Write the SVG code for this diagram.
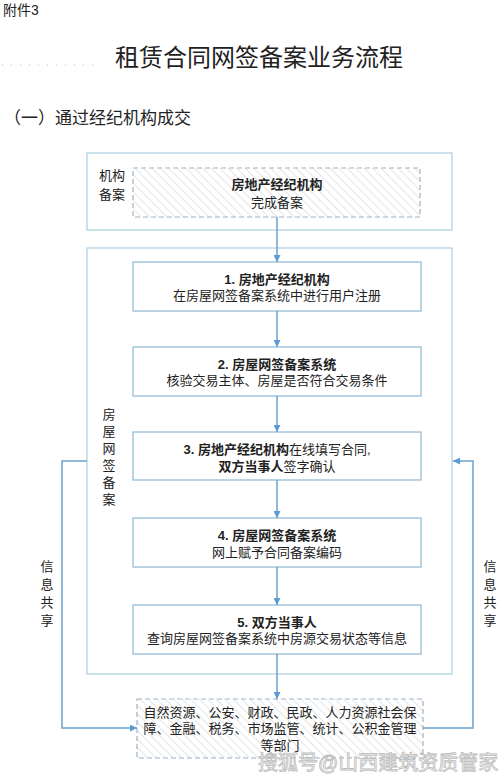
<svg xmlns="http://www.w3.org/2000/svg" width="500" height="780" viewBox="0 0 500 780">
<defs>
<pattern id="hatch" patternUnits="userSpaceOnUse" width="6" height="6" patternTransform="rotate(-45)">
<rect width="6" height="6" fill="#ffffff"/>
<line x1="0" y1="0" x2="0" y2="6" stroke="#d4d4d4" stroke-width="1.2"/>
</pattern>
<marker id="arr" viewBox="0 0 10 10" refX="10" refY="5" markerWidth="7" markerHeight="7" orient="auto" markerUnits="userSpaceOnUse">
<path d="M0,0 L10,5 L0,10 z" fill="#5b9bd5"/>
</marker>
<style>
text{font-family:"Liberation Sans","Noto Sans CJK SC",sans-serif;fill:#222;}
.t{font-size:13px;text-anchor:middle;}
.b{font-weight:bold;}
.lbl{font-size:13px;text-anchor:middle;}
.outer{fill:none;stroke:#aacfe0;stroke-width:1.2;}
.box{fill:#ffffff;stroke:#8db8d6;stroke-width:1.2;}
.dash{fill:url(#hatch);stroke:#9fb4c8;stroke-width:1.2;stroke-dasharray:5,3;}
.con{fill:none;stroke:#6aa0cc;stroke-width:1.5;}
</style>
</defs>
<rect width="500" height="780" fill="#ffffff"/>

<text x="3" y="15" style="font-size:14px">附件3</text>
<line x1="2" y1="65" x2="100" y2="65" stroke="#bbb" stroke-width="1" stroke-dasharray="1,8"/>
<text x="259" y="66" style="font-size:24px;text-anchor:middle">租赁合同网签备案业务流程</text>
<text x="4" y="124" style="font-size:17px">（一）通过经纪机构成交</text>

<g id="group-agency">
<rect class="outer" x="87" y="153" width="365" height="77"/>
<text class="lbl" x="112" y="180">机构</text>
<text class="lbl" x="112" y="199">备案</text>
</g>
<g id="group-system">
<rect class="outer" x="87" y="248" width="365" height="426"/>
<text class="lbl"><tspan x="109" y="419">房</tspan><tspan x="109" y="436">屋</tspan><tspan x="109" y="453">网</tspan><tspan x="109" y="470">签</tspan><tspan x="109" y="487">备</tspan><tspan x="109" y="504">案</tspan></text>
</g>

<g id="node-agency">
<rect class="dash" x="133" y="168" width="287" height="49"/>
<text class="t b" x="277" y="189">房地产经纪机构</text>
<text class="t" x="277" y="207">完成备案</text>
</g>
<g id="node-1">
<rect class="box" x="133" y="262" width="288" height="49"/>
<text class="t b" x="277" y="284">1. 房地产经纪机构</text>
<text class="t" x="277" y="300">在房屋网签备案系统中进行用户注册</text>
</g>
<g id="node-2">
<rect class="box" x="133" y="347" width="288" height="49"/>
<text class="t b" x="277" y="369">2. 房屋网签备案系统</text>
<text class="t" x="277" y="385">核验交易主体、房屋是否符合交易条件</text>
</g>
<g id="node-3">
<rect class="box" x="133" y="432" width="288" height="48"/>
<text class="t" x="277" y="454"><tspan class="b">3. 房地产经纪机构</tspan>在线填写合同,</text>
<text class="t" x="277" y="471"><tspan class="b">双方当事人</tspan>签字确认</text>
</g>
<g id="node-4">
<rect class="box" x="133" y="518" width="288" height="49"/>
<text class="t b" x="277" y="540">4. 房屋网签备案系统</text>
<text class="t" x="277" y="557">网上赋予合同备案编码</text>
</g>
<g id="node-5">
<rect class="box" x="133" y="605" width="288" height="49"/>
<text class="t b" x="277" y="627">5. 双方当事人</text>
<text class="t" x="277" y="643">查询房屋网签备案系统中房源交易状态等信息</text>
</g>
<g id="node-depts">
<rect class="dash" x="137" y="699" width="286" height="59"/>
<text class="t" x="280" y="717">自然资源、公安、财政、民政、人力资源社会保</text>
<text class="t" x="280" y="733">障、金融、税务、市场监管、统计、公积金管理</text>
<text class="t" x="280" y="750">等部门</text>
</g>

<g id="connectors">
<line class="con" x1="277" y1="217" x2="277" y2="262" marker-end="url(#arr)"/>
<line class="con" x1="277" y1="311" x2="277" y2="347" marker-end="url(#arr)"/>
<line class="con" x1="277" y1="396" x2="277" y2="432" marker-end="url(#arr)"/>
<line class="con" x1="277" y1="480" x2="277" y2="518" marker-end="url(#arr)"/>
<line class="con" x1="277" y1="567" x2="277" y2="605" marker-end="url(#arr)"/>
<line class="con" x1="277" y1="654" x2="277" y2="699" marker-end="url(#arr)"/>
<polyline class="con" points="87,461 62,461 62,728 137,728" marker-end="url(#arr)"/>
<polyline class="con" points="423,728 473,728 473,461 453,461" marker-end="url(#arr)"/>
<text class="lbl"><tspan x="47" y="571">信</tspan><tspan x="47" y="589">息</tspan><tspan x="47" y="607">共</tspan><tspan x="47" y="625">享</tspan></text>
<text class="lbl"><tspan x="490" y="571">信</tspan><tspan x="490" y="589">息</tspan><tspan x="490" y="607">共</tspan><tspan x="490" y="625">享</tspan></text>
</g>

<text x="258" y="770" style="font-size:20px;fill:#ffffff;stroke:#b0b0b0;stroke-width:0.8;opacity:0.85">搜狐号@山西建筑资质管家</text>
</svg>
